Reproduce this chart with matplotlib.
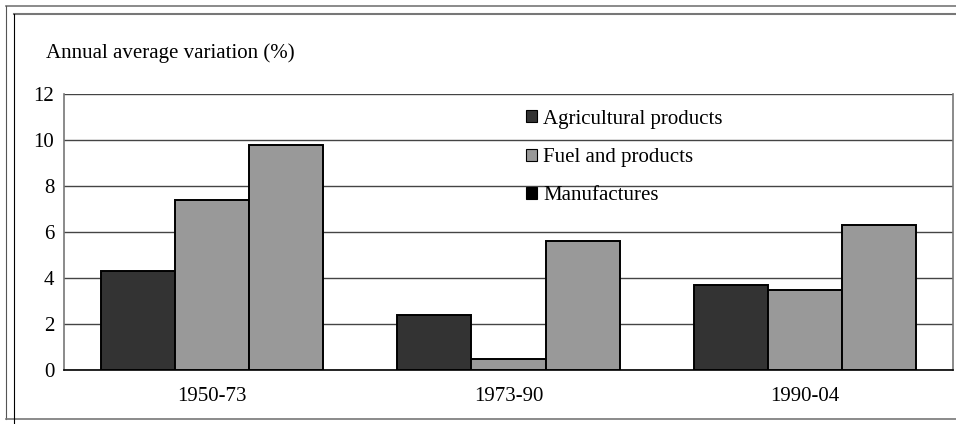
import numpy as np
import matplotlib.pyplot as plt
from matplotlib.lines import Line2D

plt.rcParams['font.family'] = ['Liberation Serif', 'DejaVu Serif']

periods = ['1950-73', '1973-90', '1990-04']
series = ['Agricultural products', 'Fuel and products', 'Manufactures']
agri = [4.3, 2.4, 3.7]
fuel = [7.4, 0.5, 3.5]
manuf = [9.8, 5.6, 6.3]

bar_colors = ['#333333', '#999999', '#999999']
legend_colors = ['#333333', '#999999', '#000000']
FS = 15

W, H = 956, 424
fig = plt.figure(figsize=(W / 100, H / 100), dpi=100)
ax = fig.add_axes([64 / W, 1 - 370 / H, (953 - 64) / W, (370 - 94) / H])

x = np.arange(len(periods))
w = 0.25
for i, vals in enumerate([agri, fuel, manuf]):
    ax.bar(x + (i - 1) * w, vals, w, color=bar_colors[i], edgecolor='black',
           linewidth=1.4, label=series[i], zorder=3)

ax.set_xlim(-0.5, 2.5)
ax.set_ylim(0, 12)
ax.set_yticks(range(0, 13, 2))
ax.set_xticks(x)
ax.set_xticklabels(periods)
ax.yaxis.grid(True, color='#444444', linewidth=1)
ax.tick_params(length=0, labelsize=FS)
ax.tick_params(axis='y', pad=7)
ax.tick_params(axis='x', pad=12.5)
for s in ['left', 'top', 'right']:
    ax.spines[s].set_color('#777777')
    ax.spines[s].set_linewidth(1.2)
ax.spines['bottom'].set_color('black')
ax.spines['bottom'].set_linewidth(1.2)
ax.spines['top'].set_visible(False)

leg = ax.legend(loc='upper left', bbox_to_anchor=(0.520, 0.943), frameon=False,
                fontsize=FS, handlelength=0.5, handleheight=0.5,
                handletextpad=0.3, labelspacing=0.93, borderpad=0, borderaxespad=0)
for h, c in zip(leg.legend_handles, legend_colors):
    h.set_facecolor(c)
    h.set_edgecolor('black')
    h.set_linewidth(0.8)

fig.text(46 / W, 1 - 53 / H, 'Annual average variation (%)', fontsize=FS,
         ha='left', va='center')

# page frame lines
def fl(xs, ys, color, lw):
    fig.add_artist(Line2D([v / W for v in xs], [1 - v / H for v in ys],
                          color=color, linewidth=lw, transform=fig.transFigure))

fl([6, W], [5.5, 5.5], '#777777', 1.2)
fl([6, 6], [5.5, 419], '#555555', 0.8)
fl([6, W], [419, 419], '#777777', 1.2)
fl([14, W], [14, 14], '#777777', 1.5)
fl([14, 14], [14, H], '#000000', 0.8)

fig.savefig('out.png', dpi=100)
